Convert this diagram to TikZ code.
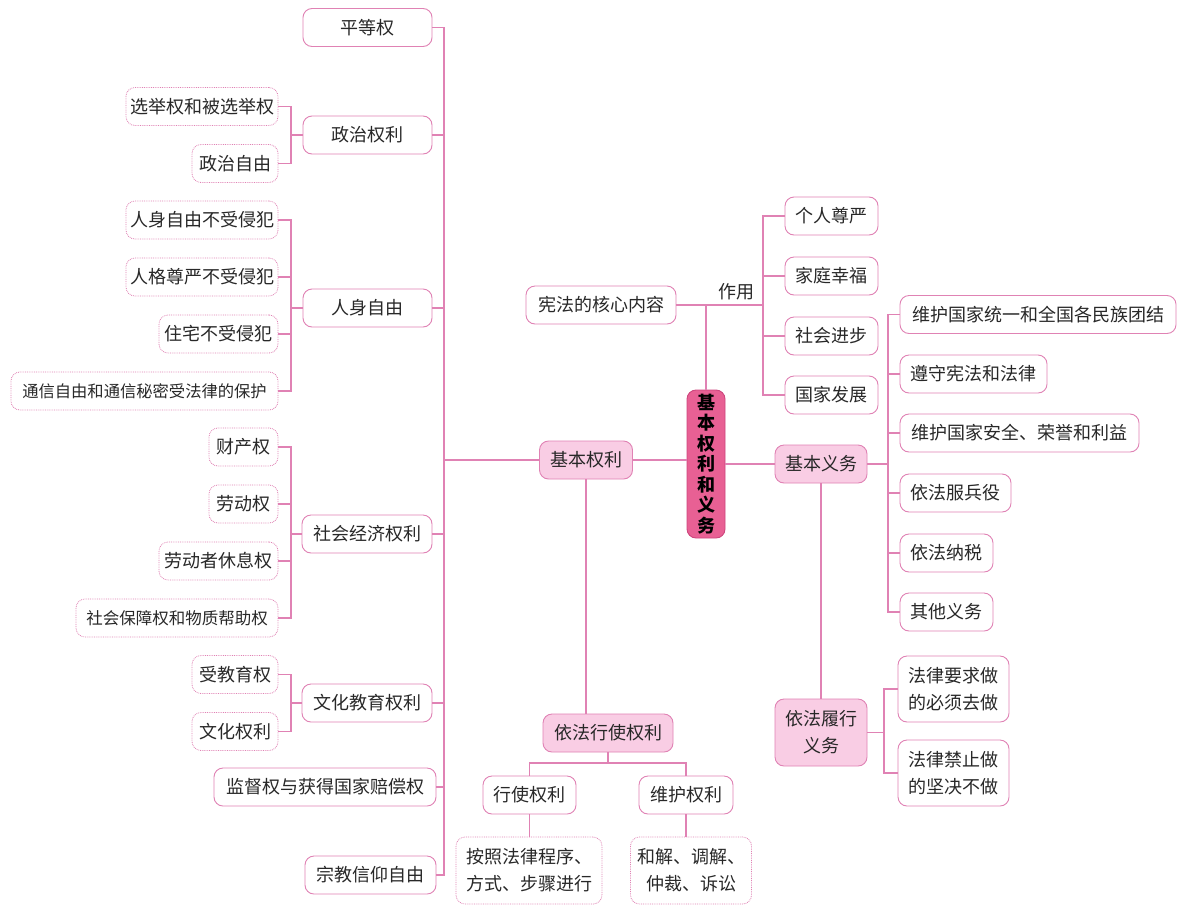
\documentclass[tikz,border=0pt]{standalone}
\usepackage{fontspec}
\setmainfont{Noto Sans CJK SC}
\definecolor{ln}{RGB}{224,130,180}
\definecolor{pf}{RGB}{249,205,228}
\definecolor{df}{RGB}{232,96,148}
\definecolor{dd}{RGB}{205,70,125}
\definecolor{tx}{RGB}{40,40,40}
\tikzset{
  base/.style={rounded corners=9pt, inner sep=0pt, minimum height=38pt, align=center, text=tx,
     font=\fontsize{18}{27}\selectfont},
  sb/.style={base, draw=ln, line width=0.9pt, fill=white},
  db/.style={base, draw=ln, line width=0.8pt, densely dotted, fill=white},
  pb/.style={base, draw=ln, line width=0.9pt, fill=pf},
  cb/.style={base, draw=dd, line width=0.9pt, fill=df, text=black,
     font=\fontsize{18}{20.5}\selectfont\bfseries},
  conn/.style={draw=ln, line width=1.2pt},
}
\begin{document}
\begin{tikzpicture}[x=1pt,y=-1pt]
\useasboundingbox (0,0) rectangle (1183,916);
\fill[white] (0,0) rectangle (1183,916);
% left level 2
\node[sb, minimum width=129] (pdq) at (367.5,27.5) {平等权};
\node[sb, minimum width=129] (zzql) at (367.5,135) {政治权利};
\node[sb, minimum width=129] (rszy) at (367.5,308) {人身自由};
\node[sb, minimum width=130] (shjj) at (367,534) {社会经济权利};
\node[sb, minimum width=130] (whjy) at (367,703) {文化教育权利};
\node[sb, minimum width=222] (jdq) at (325,787) {监督权与获得国家赔偿权};
\node[sb, minimum width=131] (zjxy) at (370.5,875) {宗教信仰自由};
% left level 3
\node[db, minimum width=152] (xjq) at (202,106.5) {选举权和被选举权};
\node[db, minimum width=86] (zzzy) at (235,163.5) {政治自由};
\node[db, minimum width=152] (rs1) at (202,220) {人身自由不受侵犯};
\node[db, minimum width=152] (rg) at (202,277) {人格尊严不受侵犯};
\node[db, minimum width=119] (zz) at (218.5,334) {住宅不受侵犯};
\node[db, minimum width=267, font=\fontsize{16.3}{20}\selectfont] (txzy) at (144.5,391) {通信自由和通信秘密受法律的保护};
\node[db, minimum width=69] (ccq) at (243.5,447) {财产权};
\node[db, minimum width=69] (ldq) at (243.5,504) {劳动权};
\node[db, minimum width=119] (ldz) at (218.5,561) {劳动者休息权};
\node[db, minimum width=202, font=\fontsize{16.5}{20}\selectfont] (shbz) at (177,618) {社会保障权和物质帮助权};
\node[db, minimum width=86] (sjy) at (235,674.5) {受教育权};
\node[db, minimum width=86] (whq) at (235,731.5) {文化权利};
% centre
\node[pb, minimum width=93] (jbql) at (586,460) {基本权利};
\node[cb, minimum width=38, minimum height=148] (ctr) at (706,464) {基\\本\\权\\利\\和\\义\\务};
\node[pb, minimum width=92] (jbyw) at (821,464) {基本义务};
\node[sb, minimum width=150] (xf) at (601,305) {宪法的核心内容};
\node[text=tx, font=\fontsize{18}{20}\selectfont, inner sep=0pt] (zy) at (736,292) {作用};
\node[sb, minimum width=93] (grzy) at (831.5,216) {个人尊严};
\node[sb, minimum width=93] (jtxf) at (831.5,276) {家庭幸福};
\node[sb, minimum width=93] (shjb) at (831.5,336) {社会进步};
\node[sb, minimum width=93] (gjfz) at (831.5,395) {国家发展};
% right
\node[sb, minimum width=276] (wh1) at (1038,314.5) {维护国家统一和全国各民族团结};
\node[sb, minimum width=147] (zs) at (973.5,374) {遵守宪法和法律};
\node[sb, minimum width=239] (wh2) at (1019.5,433) {维护国家安全、荣誉和利益};
\node[sb, minimum width=111] (fby) at (955.5,493) {依法服兵役};
\node[sb, minimum width=93] (ns) at (946.5,553) {依法纳税};
\node[sb, minimum width=93] (qt) at (946.5,612) {其他义务};
\node[pb, minimum width=92, minimum height=67] (lx) at (821,732.5) {依法履行\\义务};
\node[sb, minimum width=111, minimum height=66] (fl1) at (953.5,689) {法律要求做\\的必须去做};
\node[sb, minimum width=111, minimum height=66] (fl2) at (953.5,773) {法律禁止做\\的坚决不做};
% bottom
\node[pb, minimum width=130] (yfxs) at (608,733) {依法行使权利};
\node[sb, minimum width=93] (xsql) at (529.5,795) {行使权利};
\node[sb, minimum width=94] (whql) at (686,795) {维护权利};
\node[db, minimum width=146, minimum height=67] (az) at (529,870.5) {按照法律程序、\\方式、步骤进行};
\node[db, minimum width=121, minimum height=67] (hj) at (691,870.5) {和解、调解、\\仲裁、诉讼};
% coordinates for brackets
\coordinate (T) at (444,0);
\coordinate (B) at (291,0);
\coordinate (Z) at (763,0);
\coordinate (O) at (888,0);
\coordinate (L) at (884,0);
\coordinate (M) at (0,763);
% trunk
\draw[conn] (pdq.east) -- (pdq.east -| T) -- (zjxy.east -| T) -- (zjxy.east);
\foreach \n in {zzql,rszy,shjj,whjy,jdq} \draw[conn] (\n.east) -- (\n.east -| T);
\draw[conn] (jbql.west) -- (jbql.west -| T);
% left brackets
\draw[conn] (xjq.east) -- (xjq.east -| B) -- (zzzy.east -| B) -- (zzzy.east);
\draw[conn] (zzql.west) -- (zzql.west -| B);
\draw[conn] (rs1.east) -- (rs1.east -| B) -- (txzy.east -| B) -- (txzy.east);
\foreach \n in {rg,zz} \draw[conn] (\n.east) -- (\n.east -| B);
\draw[conn] (rszy.west) -- (rszy.west -| B);
\draw[conn] (ccq.east) -- (ccq.east -| B) -- (shbz.east -| B) -- (shbz.east);
\foreach \n in {ldq,ldz} \draw[conn] (\n.east) -- (\n.east -| B);
\draw[conn] (shjj.west) -- (shjj.west -| B);
\draw[conn] (sjy.east) -- (sjy.east -| B) -- (whq.east -| B) -- (whq.east);
\draw[conn] (whjy.west) -- (whjy.west -| B);
% centre links
\draw[conn] (jbql.east) -- (ctr.west |- jbql.east);
\draw[conn] (ctr.east |- jbyw.west) -- (jbyw.west);
\draw[conn] (ctr.north) -- (ctr.north |- xf.east);
\draw[conn] (xf.east) -- (xf.east -| Z);
\draw[conn] (grzy.west) -- (grzy.west -| Z) -- (gjfz.west -| Z) -- (gjfz.west);
\foreach \n in {jtxf,shjb} \draw[conn] (\n.west) -- (\n.west -| Z);
% obligations
\draw[conn] (jbyw.east) -- (jbyw.east -| O);
\draw[conn] (wh1.west) -- (wh1.west -| O) -- (qt.west -| O) -- (qt.west);
\foreach \n in {zs,wh2,fby,ns} \draw[conn] (\n.west) -- (\n.west -| O);
\draw[conn] (jbyw.south) -- (jbyw.south |- lx.north);
\draw[conn] (lx.east) -- (lx.east -| L);
\draw[conn] (fl1.west) -- (fl1.west -| L) -- (fl2.west -| L) -- (fl2.west);
% bottom
\draw[conn] (jbql.south) -- (jbql.south |- yfxs.north);
\draw[conn] (yfxs.south) -- (yfxs.south |- M);
\draw[conn] (xsql.north) -- (xsql.north |- M) -- (whql.north |- M) -- (whql.north);
\draw[conn] (xsql.south) -- (xsql.south |- az.north);
\draw[conn] (whql.south) -- (whql.south |- hj.north);
\end{tikzpicture}
\end{document}
